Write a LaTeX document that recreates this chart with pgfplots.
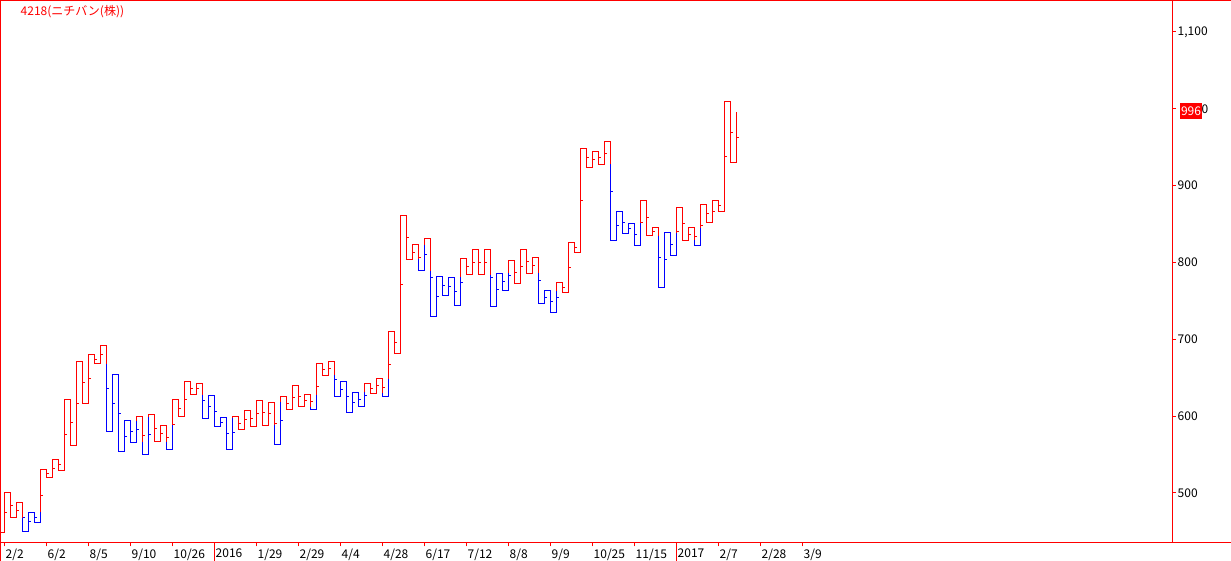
\documentclass[border=0pt]{standalone}
\usepackage{fontspec}
\setmainfont{Noto Sans CJK JP}
\usepackage{graphicx}
\usepackage{pgfplots}
\pgfplotsset{compat=1.18}
\pgfdeclareplotmark{rtick}{\pgfpathmoveto{\pgfpointorigin}\pgfpathlineto{\pgfpoint{2.5pt}{0pt}}\pgfusepathqstroke}
\definecolor{kred}{RGB}{255,0,0}
\definecolor{kblue}{RGB}{0,0,255}
\newcommand\lblfont{\fontsize{12}{13}\selectfont}
\begin{document}
\begin{tikzpicture}[x=1pt,y=1pt]
\path[use as bounding box] (0,0) rectangle (1231,561);
\begin{axis}[at={(1pt,18pt)}, anchor=south west,
  width=1171pt, height=543pt, scale only axis,
  xmin=-0.583333, xmax=194.583333, ymin=434.9, ymax=1141.66,
  axis line style={draw=none},
  tick align=outside, xtick pos=left, ytick pos=right,
  major tick length=3.5pt,
  tick style={kred, line width=1pt},
  xtick={0,7,14,21,28,35,42,49,56,63,70,77,84,91,98,105,112,119,126,133},
  xticklabels={2/2,6/2,8/5,9/10,10/26,2016,1/29,2/29,4/4,4/28,6/17,7/12,8/8,9/9,10/25,11/15,2017,2/7,2/28,3/9},
  extra x ticks={35,112}, extra x tick labels={},
  extra x tick style={major tick length=18pt},
  ytick={500,600,700,800,900,1000,1100},
  yticklabels={500,600,700,800,900,{\hspace*{24pt}0},{1,100}},
  xticklabel style={anchor=north west, inner sep=0pt, font=\lblfont, xshift=1pt, yshift=-2.5pt},
  yticklabel style={anchor=west, inner sep=0pt, font=\lblfont, xshift=2pt},
]
% yang (red) runs
\addplot[draw=kred, color=kred, mark=none, line width=1pt, unbounded coords=jump] coordinates {
(-0.583333,448) (0,448) (0,500) (1,500) (1,468) (2,468) (2,487) (3,487) (3,468) (nan,nan)
(6,475) (6,531) (7,531) (7,520) (8,520) (8,544) (9,544) (9,529) (10,529) (10,622) (11,622) (11,562) (12,562) (12,671) (13,671) (13,617) (14,617) (14,680) (15,680) (15,668) (16,668) (16,692) (17,692) (17,668) (nan,nan)
(22,594) (22,599) (23,599) (23,566) (nan,nan)
(24,599) (24,602) (25,602) (25,567) (26,567) (26,588) (27,588) (27,567) (nan,nan)
(28,588) (28,622) (29,622) (29,599) (30,599) (30,645) (31,645) (31,628) (32,628) (32,643) (33,643) (33,628) (nan,nan)
(38,598) (38,600) (39,600) (39,582) (40,582) (40,608) (41,608) (41,587) (42,587) (42,621) (43,621) (43,588) (44,588) (44,618) (45,618) (45,588) (nan,nan)
(46,618) (46,625) (47,625) (47,609) (48,609) (48,640) (49,640) (49,612) (50,612) (50,628) (51,628) (51,612) (nan,nan)
(52,628) (52,668) (53,668) (53,653) (54,653) (54,671) (55,671) (55,653) (nan,nan)
(60,631) (60,643) (61,643) (61,630) (62,630) (62,649) (63,649) (63,630) (nan,nan)
(64,649) (64,710) (65,710) (65,682) (66,682) (66,861) (67,861) (67,804) (68,804) (68,823) (69,823) (69,804) (nan,nan)
(70,823) (70,831) (71,831) (71,789) (nan,nan)
(76,781) (76,805) (77,805) (77,784) (78,784) (78,817) (79,817) (79,784) (80,784) (80,817) (81,817) (81,784) (nan,nan)
(84,786) (84,802) (85,802) (85,773) (86,773) (86,817) (87,817) (87,786) (88,786) (88,807) (89,807) (89,786) (nan,nan)
(92,763) (92,774) (93,774) (93,761) (94,761) (94,826) (95,826) (95,813) (96,813) (96,949) (97,949) (97,924) (98,924) (98,945) (99,945) (99,928) (100,928) (100,957) (101,957) (101,928) (nan,nan)
(106,851) (106,881) (107,881) (107,835) (108,835) (108,845) (109,845) (109,835) (nan,nan)
(112,839) (112,872) (113,872) (113,829) (114,829) (114,845) (115,845) (115,829) (nan,nan)
(116,845) (116,875) (117,875) (117,852) (118,852) (118,881) (119,881) (119,867) (120,867) (120,1009) (121,1009) (121,930) (122,930) (122,996)};
% yin (blue) runs
\addplot[draw=kblue, color=kblue, mark=none, line width=1pt, unbounded coords=jump] coordinates {
(3,468) (3,450) (4,450) (4,475) (5,475) (5,462) (6,462) (6,475) (nan,nan)
(17,668) (17,580) (18,580) (18,654) (19,654) (19,554) (20,554) (20,594) (21,594) (21,566) (22,566) (22,594) (nan,nan)
(23,566) (23,550) (24,550) (24,599) (nan,nan)
(27,567) (27,557) (28,557) (28,588) (nan,nan)
(33,628) (33,597) (34,597) (34,627) (35,627) (35,586) (36,586) (36,598) (37,598) (37,557) (38,557) (38,598) (nan,nan)
(45,588) (45,563) (46,563) (46,618) (nan,nan)
(51,612) (51,609) (52,609) (52,628) (nan,nan)
(55,653) (55,625) (56,625) (56,645) (57,645) (57,605) (58,605) (58,631) (59,631) (59,612) (60,612) (60,631) (nan,nan)
(63,630) (63,625) (64,625) (64,649) (nan,nan)
(69,804) (69,789) (70,789) (70,823) (nan,nan)
(71,789) (71,730) (72,730) (72,782) (73,782) (73,757) (74,757) (74,781) (75,781) (75,744) (76,744) (76,781) (nan,nan)
(81,784) (81,743) (82,743) (82,786) (83,786) (83,764) (84,764) (84,786) (nan,nan)
(89,786) (89,746) (90,746) (90,763) (91,763) (91,735) (92,735) (92,763) (nan,nan)
(101,928) (101,829) (102,829) (102,867) (103,867) (103,838) (104,838) (104,851) (105,851) (105,822) (106,822) (106,851) (nan,nan)
(109,835) (109,768) (110,768) (110,839) (111,839) (111,809) (112,809) (112,839) (nan,nan)
(115,829) (115,822) (116,822) (116,845)};
% midpoint ticks
\addplot[only marks, mark=rtick, mark options={draw=kred, line width=1pt}] coordinates {(0,474) (1,484) (2,477.5) (6,496.5) (7,525.5) (8,532) (9,536.5) (10,575.5) (11,592) (12,616.5) (13,644) (14,648.5) (15,674) (16,680) (23,574.5) (25,584.5) (26,577.5) (27,572.5) (28,589.5) (29,610.5) (30,622) (31,636.5) (32,635.5) (39,591) (40,595) (41,597.5) (42,604) (43,604.5) (44,603) (45,590.5) (47,617) (48,624.5) (49,626) (50,620) (51,618.5) (52,638.5) (53,660.5) (54,662) (61,636.5) (62,639.5) (63,637) (64,667.5) (65,696) (66,771.5) (67,832.5) (68,813.5) (69,806) (77,794.5) (78,800.5) (79,800.5) (80,800.5) (85,787.5) (86,795) (87,801.5) (88,796.5) (93,767.5) (94,793.5) (95,819.5) (96,881) (97,936.5) (98,934.5) (99,936.5) (100,942.5) (106,851.5) (107,858) (108,840) (112,840.5) (113,850.5) (114,837) (115,833.5) (116,848.5) (117,863.5) (118,866.5) (119,874) (120,938) (121,969.5) (122,963)};
\addplot[only marks, mark=rtick, mark options={draw=kblue, line width=1pt}] coordinates {(3,468.5) (4,462.5) (5,468.5) (17,636) (18,617) (19,604) (20,574) (21,580) (22,582.5) (24,576) (33,620) (34,612) (35,606.5) (36,592) (37,577.5) (38,578.5) (46,594) (55,648) (56,635) (57,625) (58,618) (59,621.5) (60,627.5) (70,810) (71,780.5) (72,756) (73,769.5) (74,769) (75,762.5) (76,774.5) (81,780) (82,764.5) (83,775) (84,783) (89,776.5) (90,754.5) (91,749) (92,754.5) (101,893) (102,848) (103,852.5) (104,844.5) (105,836.5) (109,806.5) (110,803.5) (111,824)};
\end{axis}
% frame
\draw[kred, line width=1pt] (0,560.5) -- (1231,560.5);
\draw[kred, line width=1pt] (0,18) -- (1231,18);
\draw[kred, line width=1pt] (0.5,0) -- (0.5,561);
\draw[kred, line width=1pt] (1172.5,18) -- (1172.5,561);
% title
\node[anchor=west, inner sep=0pt, text=kred, font=\lblfont] at (20.5,549.5) {4218(ニチバン(株))};
% last value box
\fill[kred] (1180,441.5) rectangle (1202,457.5);
\node[text=white, inner sep=0pt, font=\lblfont] at (1191,449.5) {996};
\end{tikzpicture}
\end{document}
